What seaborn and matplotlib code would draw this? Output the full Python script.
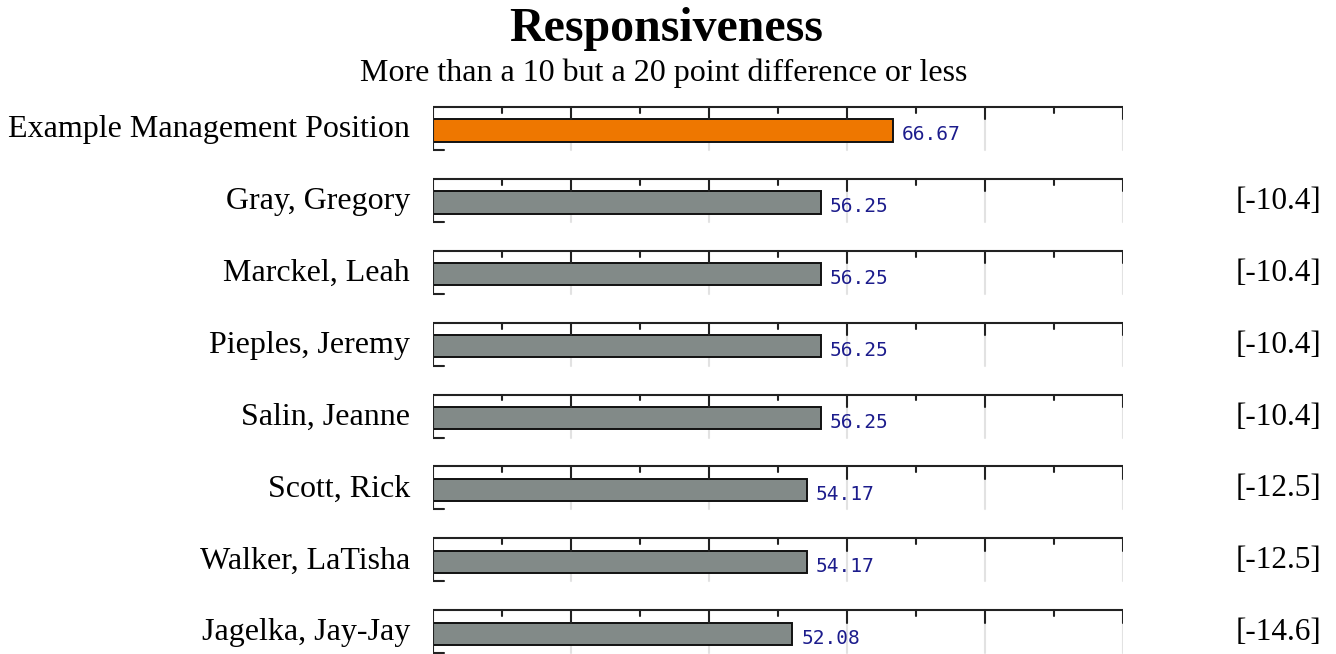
import matplotlib
matplotlib.use("Agg")
import matplotlib.pyplot as plt
import seaborn as sns
import pandas as pd

names = ["Example Management Position", "Gray, Gregory", "Marckel, Leah",
         "Pieples, Jeremy", "Salin, Jeanne", "Scott, Rick",
         "Walker, LaTisha", "Jagelka, Jay-Jay"]
scores = [66.67, 56.25, 56.25, 56.25, 56.25, 54.17, 54.17, 52.08]
differences = ["", "[-10.4]", "[-10.4]", "[-10.4]", "[-10.4]", "[-12.5]", "[-12.5]", "[-14.6]"]
bar_colors = ["#EE7700"] + ["#828A88"] * 7

title = "Responsiveness"
subtitle = "More than a 10 but a 20 point difference or less"

sns.set_theme(style="white")
plt.rcParams["font.family"] = ["Liberation Serif", "DejaVu Serif"]

W, H = 1336, 654
ROW = 71.9          # pixel pitch between rows
CENTER0 = 130.5     # pixel centre of the first bar
fig = plt.figure(figsize=(W / 100, H / 100), dpi=100)

# axes spanning the 0-100 score range; one row per person
ax = fig.add_axes([433 / W, 0, 690 / W, 554 / H])
df = pd.DataFrame({"name": names, "score": scores})
sns.barplot(data=df, x="score", y="name", hue="name", palette=bar_colors,
            orient="h", width=0.31, edgecolor="#111111", linewidth=1.4,
            legend=False, ax=ax, saturation=1, zorder=2)
ax.set_xlim(0, 100)
ax.set_ylim((H - CENTER0) / ROW, -(CENTER0 - 100) / ROW)
ax.axis("off")

frame = "#222222"
lw = 1.5
for i, (name, val, diff) in enumerate(zip(names, scores, differences)):
    top = i - 0.327
    bottom = i + 0.27
    # light guide lines behind the bar
    for x in range(20, 101, 20):
        ax.plot([x, x], [i - 0.15, bottom], color="#e2e2e2", lw=lw, zorder=1)
    # top rule with major and minor ticks
    ax.plot([0, 100], [top, top], color=frame, lw=lw, solid_capstyle="projecting", zorder=3)
    for x in range(20, 101, 20):
        ax.plot([x, x], [top, i - 0.155], color=frame, lw=lw, zorder=3)
    for x in range(10, 100, 20):
        ax.plot([x, x], [top, i - 0.245], color=frame, lw=lw, zorder=3)
    # left edge with a small foot
    ax.plot([0, 0, 1.6], [top, bottom, bottom], color=frame, lw=lw, zorder=3)
    # value label
    ax.text(val + 1.3, i + 0.06, f"{val:.2f}", ha="left", va="center",
            fontsize=14, color="#1c1c8c", family="DejaVu Sans Mono")
    # row labels
    base = H - (CENTER0 + 6.5 + i * ROW)
    fig.text(410 / W, base / H, name, ha="right", va="baseline", fontsize=23, color="black")
    if diff:
        fig.text(1321 / W, base / H, diff, ha="right", va="baseline", fontsize=22.5, color="black")

fig.text(0.4985, (H - 41) / H, title, ha="center", va="baseline", fontsize=34.5,
         fontweight="bold", color="black")
fig.text(0.497, (H - 80.5) / H, subtitle, ha="center", va="baseline", fontsize=23,
         color="black")

fig.savefig("out.png", dpi=100, facecolor="white")
